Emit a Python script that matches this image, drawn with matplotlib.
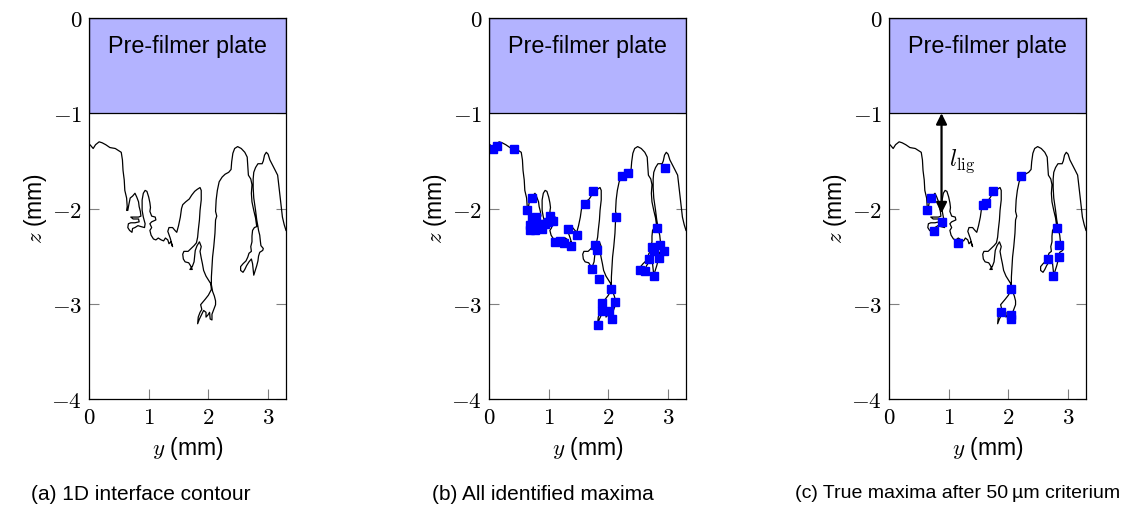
import matplotlib
matplotlib.use("Agg")
import matplotlib.pyplot as plt
from matplotlib.patches import Rectangle

plt.rcParams['mathtext.fontset'] = 'cm'
plt.rcParams['font.family'] = ['Liberation Sans', 'DejaVu Sans']

# ---------------- data ----------------
contour_y = [0.00, 0.03, 0.07, 0.11, 0.17, 0.22, 0.28, 0.35, 0.44, 0.49, 0.54, 0.56, 0.57, 0.59, 0.60,
             0.63, 0.64, 0.63, 0.65, 0.67, 0.69, 0.73, 0.77, 0.80, 0.83, 0.84, 0.86, 0.87,
             0.83, 0.76, 0.70, 0.74, 0.83, 0.84, 0.77, 0.70, 0.66, 0.65, 0.68, 0.72, 0.73, 0.77,
             0.82, 0.87, 0.93, 0.94, 0.91, 0.89, 0.89, 0.91, 0.94, 0.97, 1.00, 1.02, 1.03, 1.02,
             1.05, 1.11, 1.12, 1.05, 1.02, 1.05, 1.02, 1.04, 1.08, 1.12, 1.16, 1.21, 1.25, 1.28,
             1.32, 1.34, 1.37, 1.40, 1.36, 1.32, 1.34, 1.40, 1.44, 1.47, 1.50, 1.53, 1.55, 1.57,
             1.62, 1.68, 1.72, 1.77, 1.81, 1.86, 1.88, 1.88, 1.86, 1.85, 1.83, 1.82, 1.80, 1.76,
             1.71, 1.66, 1.59, 1.57, 1.58, 1.61, 1.67, 1.70, 1.73, 1.69, 1.73, 1.76, 1.77, 1.78,
             1.81, 1.85, 1.88, 1.86, 1.88, 1.90, 1.92, 1.96, 2.00, 2.04, 2.05, 2.00, 1.95, 1.91,
             1.87, 1.89, 1.86, 1.83, 1.82, 1.85, 1.89, 1.92, 1.96, 1.96, 1.99, 2.02, 2.03, 2.06,
             2.06, 2.09, 2.12, 2.12, 2.10, 2.07, 2.05, 2.05, 2.06, 2.07, 2.09, 2.11, 2.12, 2.14,
             2.12, 2.13, 2.15, 2.18, 2.23, 2.28, 2.34, 2.38, 2.39, 2.41, 2.44, 2.49, 2.55, 2.61,
             2.65, 2.66, 2.67, 2.71, 2.73, 2.72, 2.73, 2.76, 2.79, 2.81,
             2.77, 2.74, 2.73, 2.73, 2.71, 2.72, 2.68, 2.66, 2.63, 2.58, 2.54, 2.54, 2.58, 2.61,
             2.64, 2.68, 2.72, 2.74, 2.75, 2.76, 2.78, 2.81, 2.83, 2.84, 2.86, 2.91, 2.92, 2.88,
             2.87, 2.86, 2.84, 2.83, 2.81, 2.79, 2.76, 2.75, 2.75, 2.76, 2.79, 2.83, 2.90, 2.92,
             2.94, 2.97, 3.00, 3.03, 3.08, 3.12, 3.16, 3.18, 3.20, 3.22, 3.24, 3.27, 3.30]
contour_z = [-1.32, -1.34, -1.37, -1.33, -1.30, -1.31, -1.33, -1.36, -1.37, -1.39, -1.41, -1.49, -1.60, -1.70, -1.81,
             -1.89, -1.98, -2.02, -2.02, -1.95, -1.89, -1.87, -1.84, -1.88, -1.93, -1.98, -2.03, -2.08,
             -2.09, -2.09, -2.09, -2.11, -2.11, -2.14, -2.15, -2.15, -2.16, -2.20, -2.23, -2.25, -2.21, -2.20,
             -2.18, -2.19, -2.20, -2.16, -2.09, -2.02, -1.91, -1.84, -1.81, -1.82, -1.88, -1.94, -1.99, -2.03,
             -2.08, -2.09, -2.12, -2.14, -2.16, -2.20, -2.23, -2.28, -2.32, -2.33, -2.31, -2.33, -2.34, -2.31,
             -2.33, -2.37, -2.35, -2.40, -2.31, -2.24, -2.20, -2.20, -2.23, -2.25, -2.18, -2.09, -2.00, -1.96,
             -1.93, -1.90, -1.86, -1.82, -1.80, -1.78, -1.81, -1.91, -2.02, -2.12, -2.23, -2.30, -2.36, -2.39,
             -2.42, -2.45, -2.45, -2.48, -2.53, -2.56, -2.57, -2.60, -2.64, -2.64, -2.61, -2.56, -2.50, -2.44,
             -2.39, -2.35, -2.40, -2.45, -2.52, -2.58, -2.65, -2.71, -2.75, -2.79, -2.85, -2.91, -2.95, -2.98,
             -3.01, -3.06, -3.09, -3.14, -3.21, -3.16, -3.11, -3.07, -3.09, -3.14, -3.12, -3.09, -3.16, -3.17,
             -3.11, -3.06, -3.01, -2.97, -2.92, -2.87, -2.80, -2.72, -2.61, -2.51, -2.40, -2.26, -2.12, -2.08,
             -2.03, -1.91, -1.81, -1.72, -1.67, -1.64, -1.62, -1.59, -1.51, -1.42, -1.37, -1.35, -1.37, -1.41,
             -1.46, -1.55, -1.65, -1.69, -1.75, -1.84, -1.93, -2.02, -2.10, -2.19,
             -2.20, -2.23, -2.29, -2.35, -2.40, -2.45, -2.47, -2.51, -2.55, -2.58, -2.61, -2.65, -2.67, -2.64,
             -2.60, -2.56, -2.53, -2.58, -2.64, -2.70, -2.66, -2.60, -2.55, -2.50, -2.46, -2.44, -2.42, -2.39,
             -2.34, -2.28, -2.23, -2.19, -2.12, -2.02, -1.89, -1.78, -1.69, -1.62, -1.57, -1.53, -1.53, -1.50,
             -1.44, -1.41, -1.43, -1.49, -1.55, -1.60, -1.65, -1.76, -1.88, -1.99, -2.09, -2.17, -2.23]

all_max_y = [0.07, 0.14, 0.42, 0.72, 0.64, 0.72, 0.78, 0.69, 0.69, 0.77, 0.83, 0.77, 0.93, 0.98, 1.02,
             1.08, 0.88, 1.11, 1.19, 1.26, 1.37, 1.33, 1.47, 1.60, 1.75, 1.78, 1.81, 1.72, 1.85, 2.05,
             1.90, 2.11, 1.89, 2.01, 2.06, 1.82, 2.13, 2.23, 2.33, 2.95, 2.82, 2.73, 2.87, 2.76, 2.93,
             2.68, 2.85, 2.53, 2.62, 2.76]
all_max_z = [-1.38, -1.34, -1.38, -1.89, -2.02, -2.10, -2.09, -2.17, -2.23, -2.23, -2.16, -2.16, -2.16, -2.14, -2.08,
             -2.13, -2.21, -2.35, -2.34, -2.36, -2.39, -2.21, -2.28, -1.95, -1.82, -2.38, -2.44, -2.64, -2.74, -2.85,
             -2.99, -2.98, -3.08, -3.08, -3.16, -3.22, -2.09, -1.66, -1.63, -1.57, -2.20, -2.40, -2.38, -2.45, -2.45,
             -2.53, -2.52, -2.65, -2.66, -2.71]

true_max_y = [0.70, 0.63, 0.89, 0.76, 1.16, 1.57, 1.63, 1.75, 2.21, 2.04, 1.88, 2.04, 2.04,
              2.81, 2.85, 2.84, 2.66, 2.75]
true_max_z = [-1.89, -2.02, -2.14, -2.24, -2.36, -1.96, -1.94, -1.82, -1.66, -2.85, -3.09, -3.12, -3.16,
              -2.20, -2.38, -2.51, -2.53, -2.71]

lig_y = 0.88
lig_z_top = -1.0
lig_z_bottom = -2.05

plate_top, plate_bottom = 0.0, -1.0
x_ticks = [0, 1, 2, 3]
z_ticks = [0, -1, -2, -3, -4]
captions = ["(a) 1D interface contour", "(b) All identified maxima",
            "(c) True maxima after 50\u2009\u00b5m criterium"]
caption_sizes = [15, 15, 14]

# ---------------- figure ----------------
W, H = 1126, 514
fig = plt.figure(figsize=(W / 100, H / 100), dpi=100)

lefts = [89, 489, 889]
caption_x = [141, 543, 958]
ax_w, ax_top, ax_bot = 197, 18, 399

for i, left in enumerate(lefts):
    ax = fig.add_axes([left / W, 1 - ax_bot / H, ax_w / W, (ax_bot - ax_top) / H])
    ax.set_xlim(0, 3.3)
    ax.set_ylim(-4, 0)
    ax.add_patch(Rectangle((0, plate_bottom), 3.3, plate_top - plate_bottom,
                           facecolor='#b3b3ff', edgecolor='black', lw=0.9, zorder=3))
    ax.text(1.65, -0.3, "Pre-filmer plate", ha='center', va='center', fontsize=16.8, zorder=4)
    ax.plot(contour_y, contour_z, color='black', lw=0.9, zorder=2)
    if i == 1:
        ax.plot(all_max_y, all_max_z, ls='none', marker='s', ms=5.2, color='#0000ff',
                mec='#0000ff', zorder=5)
    if i == 2:
        ax.plot(true_max_y, true_max_z, ls='none', marker='s', ms=5.2, color='#0000ff',
                mec='#0000ff', zorder=5)
        ax.annotate("", xy=(lig_y, lig_z_bottom), xytext=(lig_y, lig_z_top),
                    arrowprops=dict(arrowstyle='<|-|>', color='black', lw=1.6,
                                    mutation_scale=16, shrinkA=0, shrinkB=0), zorder=6)
        ax.text(lig_y + 0.12, -1.5, r"$l_{\mathrm{lig}}$", fontsize=17, ha='left', va='center', zorder=6)
    ax.set_xticks(x_ticks)
    ax.set_yticks(z_ticks)
    ax.set_xticklabels([r"$%d$" % t for t in x_ticks], fontsize=16.5)
    ax.set_yticklabels([r"$%d$" % t for t in z_ticks], fontsize=16.5)
    ax.tick_params(direction='in', length=7, width=0.8, color='#808080',
                   left=True, right=True, bottom=True, top=False, pad=5)
    for s in ax.spines.values():
        s.set_linewidth(0.9)
        s.set_zorder(7)
    ax.set_xlabel(r"$y$ (mm)", fontsize=16.5, labelpad=4)
    ax.set_ylabel(r"$z$ (mm)", fontsize=16.5, labelpad=2)
    fig.text(caption_x[i] / W, 1 - 494 / H, captions[i], ha='center', va='center',
             fontsize=caption_sizes[i])

fig.savefig("out.png", dpi=100)
